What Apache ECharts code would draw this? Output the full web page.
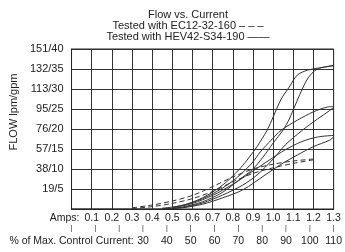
<!DOCTYPE html>
<html>
<head>
<meta charset="utf-8">
<script src="https://cdn.jsdelivr.net/npm/echarts@6/dist/echarts.min.js"></script>
<style>
  html, body { margin: 0; padding: 0; background: #fff; }
  #chart { width: 345px; height: 252px; }
</style>
</head>
<body>
<div id="chart"></div>
<script>
// y ticks in gpm, labels are lpm/gpm
const yLabels = ["", "19/5", "38/10", "57/15", "76/20", "95/25", "113/30", "132/35", "151/40"];
// % of max control current row, only 30..110 labelled
const pctLabels = { 0: "% of Max. Control Current:", 30: "30", 40: "40", 50: "50", 60: "60", 70: "70", 80: "80", 90: "90", 100: "100", 110: "110" };

// HEV42-S34-190 (solid), [amps, gpm]
const hevTopUp = [[0, 0], [0.45, 0], [0.55, 0.5], [0.65, 1.8], [0.75, 4.2], [0.85, 8], [0.9, 10], [0.95, 13], [1.0, 16.5], [1.05, 19.8], [1.08, 22.5], [1.11, 26], [1.14, 29.5], [1.17, 32.5], [1.2, 34.3], [1.23, 35.2], [1.3, 35.9]];
const hevTopDown = [[1.3, 35.8], [1.22, 35.2], [1.17, 34.7], [1.12, 33.5], [1.08, 30.5], [1.04, 27.5], [1.0, 23], [0.97, 19.7], [0.92, 15.6], [0.87, 12.2], [0.83, 9.8], [0.75, 6], [0.65, 2.8], [0.55, 0.9], [0.45, 0.2]];
const hevMidUp = [[0.45, 0], [0.55, 0.4], [0.65, 1.5], [0.75, 3.5], [0.85, 6], [0.92, 8.5], [1.0, 12.5], [1.06, 16], [1.14, 19.5], [1.22, 22.5], [1.28, 24.6], [1.3, 25.4]];
const hevMidDown = [[1.3, 25.6], [1.27, 25.5], [1.2, 24.3], [1.12, 22.2], [1.04, 19.7], [0.99, 17.2], [0.94, 14.5], [0.89, 11.2], [0.8, 7], [0.7, 3.8], [0.6, 1.6], [0.5, 0.4]];
const hevLowUp = [[0.45, 0], [0.55, 0.3], [0.65, 1.2], [0.75, 2.8], [0.85, 4.8], [0.96, 8.5], [1.04, 11.2], [1.12, 13.5], [1.2, 15.6], [1.28, 17.2], [1.3, 18]];
const hevLowDown = [[1.3, 18.4], [1.22, 18], [1.14, 16.8], [1.06, 14.8], [0.98, 12.2], [0.9, 9.5], [0.8, 6.2], [0.7, 3.4], [0.6, 1.4], [0.5, 0.3]];

// EC12-32-160 (dashed)
const ec12Up = [[0.3, 0.1], [0.4, 0.6], [0.5, 1.4], [0.6, 2.6], [0.7, 4.4], [0.8, 6.8], [0.9, 8.9], [1.0, 10.3], [1.1, 11.4], [1.2, 12.3]];
const ec12Down = [[1.2, 12.5], [1.1, 12], [1.0, 11.2], [0.9, 10], [0.8, 8], [0.7, 5.6], [0.6, 3.4], [0.5, 2], [0.4, 1], [0.3, 0.3]];

const font = "Liberation Sans";
const ink = "#222";

function curve(name, data, dashed) {
  return {
    name: name,
    type: "line",
    data: data,
    showSymbol: false,
    smooth: 0.3,
    silent: true,
    lineStyle: {
      color: "#333",
      width: 1,
      type: dashed ? [5, 3] : "solid"
    }
  };
}

// extra bottom rows for the % scale (same grid, no lines)
function pctAxis(offset, fontSize, formatter) {
  return {
    type: "value",
    position: "bottom",
    offset: offset,
    min: 0,
    max: 110,
    interval: 10,
    axisLine: { show: false },
    axisTick: { show: false },
    splitLine: { show: false },
    axisLabel: {
      margin: 0,
      fontFamily: font,
      fontSize: fontSize,
      color: ink,
      formatter: formatter
    }
  };
}

const chart = echarts.init(document.getElementById("chart"));
const option = {
  animation: false,
  title: {
    text: "Flow vs. Current\nTested with EC12-32-160 – – –\nTested with HEV42-S34-190 ——",
    left: 188,
    top: 9,
    padding: 0,
    textAlign: "center",
    textStyle: {
      fontFamily: font,
      fontSize: 11,
      fontWeight: "normal",
      lineHeight: 11,
      color: ink
    }
  },
  grid: {
    left: 66,
    top: 49,
    width: 271,
    height: 160,
    show: true,
    borderColor: ink,
    borderWidth: 1
  },
  xAxis: [
    {
      type: "value",
      min: 0,
      max: 1.3,
      interval: 0.1,
      axisLine: { show: true, lineStyle: { color: ink } },
      axisTick: { show: false },
      splitLine: { show: true, lineStyle: { color: "#333", width: 1 } },
      axisLabel: {
        margin: 4,
        fontFamily: font,
        fontSize: 10.5,
        color: ink,
        formatter: function (v) {
          if (Math.abs(v) < 1e-6) return "{a|Amps:}";
          return v.toFixed(1);
        },
        rich: {
          a: { fontFamily: font, fontSize: 10.5, color: ink, padding: [0, 14, 0, 0] }
        }
      }
    },
    pctAxis(16, 7, function () { return "|"; }),
    pctAxis(27, 10.5, function (v) { return pctLabels[v] || ""; })
  ],
  yAxis: {
    type: "value",
    min: 0,
    max: 40,
    interval: 5,
    name: "FLOW lpm/gpm",
    nameLocation: "middle",
    nameGap: 48,
    nameTextStyle: {
      fontFamily: font,
      fontSize: 11,
      color: ink,
      padding: [0, 0, 0, 34]
    },
    axisLine: { show: true, lineStyle: { color: ink } },
    axisTick: { show: false },
    splitLine: { show: true, lineStyle: { color: "#333", width: 1 } },
    axisLabel: {
      margin: 8,
      fontFamily: font,
      fontSize: 11,
      color: ink,
      formatter: function (v) {
        return yLabels[Math.round(v / 5)];
      }
    }
  },
  series: [
    curve("HEV42-S34-190", hevTopUp, false),
    curve("HEV42-S34-190", hevTopDown, false),
    curve("HEV42-S34-190", hevMidUp, false),
    curve("HEV42-S34-190", hevMidDown, false),
    curve("HEV42-S34-190", hevLowUp, false),
    curve("HEV42-S34-190", hevLowDown, false),
    curve("EC12-32-160", ec12Up, true),
    curve("EC12-32-160", ec12Down, true)
  ]
};
chart.setOption(option);
</script>
</body>
</html>
